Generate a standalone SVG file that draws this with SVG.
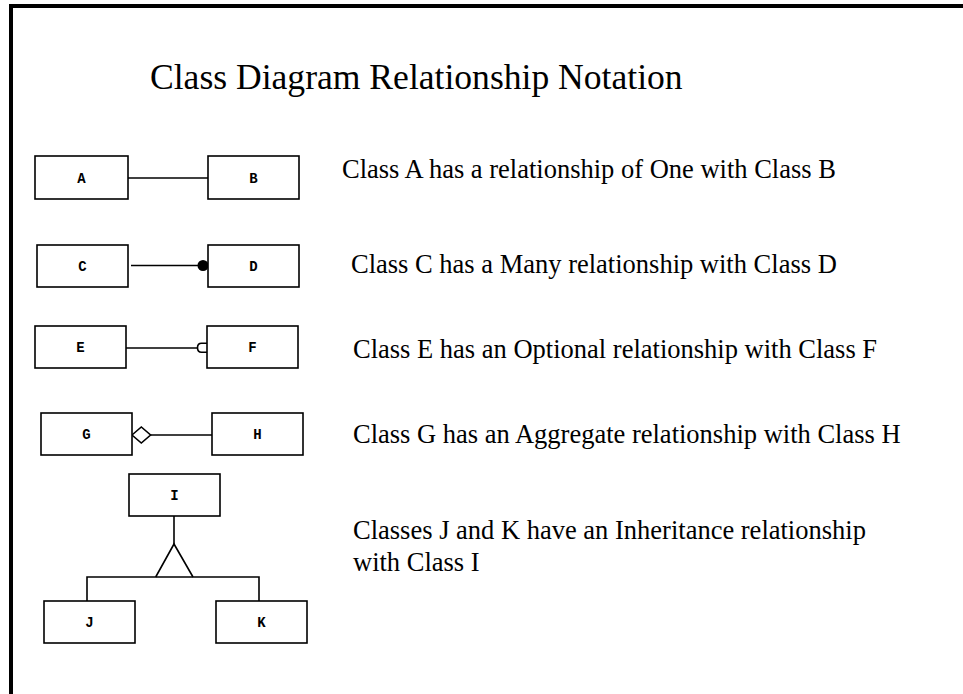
<svg xmlns="http://www.w3.org/2000/svg" width="963" height="694" viewBox="0 0 963 694">
<style>
.box{fill:#fff;stroke:#000;stroke-width:1.6}
.lbl{font-family:"Liberation Mono","DejaVu Sans Mono",monospace;font-size:14px;font-weight:bold;text-anchor:middle;fill:#000}
.ln{fill:none;stroke:#000;stroke-width:1.6}
.desc{font-family:"Liberation Serif","Times New Roman",serif;font-size:26.5px;fill:#000}
.title{font-family:"Liberation Serif","Times New Roman",serif;font-size:35.6px;fill:#000}
</style>
<rect x="0" y="0" width="963" height="694" fill="#fff"/>
<path d="M11,694 V6 H963" fill="none" stroke="#000" stroke-width="4"/>
<text class="title" x="150" y="89">Class Diagram Relationship Notation</text>
<g id="connectors">
  <line class="ln" x1="128" y1="178" x2="208" y2="178"/>
  <line class="ln" x1="131" y1="265.5" x2="203" y2="265.5"/>
  <circle cx="203" cy="265.5" r="5.5" fill="#000"/>
  <line class="ln" x1="126" y1="348" x2="197.5" y2="348"/>
  <path class="ln" d="M207,343.3 H201.5 Q197.5,343.3 197.5,347.8 Q197.5,352.3 201.5,352.3 H207"/>
  <path class="ln" d="M132,435 L141.3,427 L150.6,435 L141.3,443 Z"/>
  <line class="ln" x1="150.6" y1="435" x2="212" y2="435"/>
  <line class="ln" x1="174" y1="516" x2="174" y2="544"/>
  <path class="ln" d="M155.7,577 L174,544 L193,577"/>
  <path class="ln" d="M87,601 V577 H259 V601"/>
</g>
<g id="node-A"><rect class="box" x="35" y="156" width="93" height="43"/><text class="lbl" x="81.5" y="183">A</text></g>
<g id="node-B"><rect class="box" x="208" y="156" width="91" height="43"/><text class="lbl" x="253.5" y="183">B</text></g>
<g id="node-C"><rect class="box" x="37" y="245" width="91" height="42"/><text class="lbl" x="82.5" y="271">C</text></g>
<g id="node-D"><rect class="box" x="208" y="245" width="91" height="42"/><text class="lbl" x="253.5" y="271">D</text></g>
<g id="node-E"><rect class="box" x="35" y="326" width="91" height="42"/><text class="lbl" x="80.5" y="352">E</text></g>
<g id="node-F"><rect class="box" x="207" y="326" width="91" height="42"/><text class="lbl" x="252.5" y="352">F</text></g>
<g id="node-G"><rect class="box" x="41" y="413" width="91" height="42"/><text class="lbl" x="86.5" y="439">G</text></g>
<g id="node-H"><rect class="box" x="212" y="413" width="91" height="42"/><text class="lbl" x="257.5" y="439">H</text></g>
<g id="node-I"><rect class="box" x="129" y="474" width="91" height="42"/><text class="lbl" x="174.5" y="500">I</text></g>
<g id="node-J"><rect class="box" x="44" y="601" width="91" height="42"/><text class="lbl" x="89.5" y="627">J</text></g>
<g id="node-K"><rect class="box" x="216" y="601" width="91" height="42"/><text class="lbl" x="261.5" y="627">K</text></g>
<g id="descriptions">
  <text class="desc" x="342" y="178">Class A has a relationship of One with Class B</text>
  <text class="desc" x="351" y="273">Class C has a Many relationship with Class D</text>
  <text class="desc" x="353" y="358">Class E has an Optional relationship with Class F</text>
  <text class="desc" x="353" y="443">Class G has an Aggregate relationship with Class H</text>
  <text class="desc" x="353" y="539">Classes J and K have an Inheritance relationship</text>
  <text class="desc" x="353" y="571">with Class I</text>
</g>
</svg>
